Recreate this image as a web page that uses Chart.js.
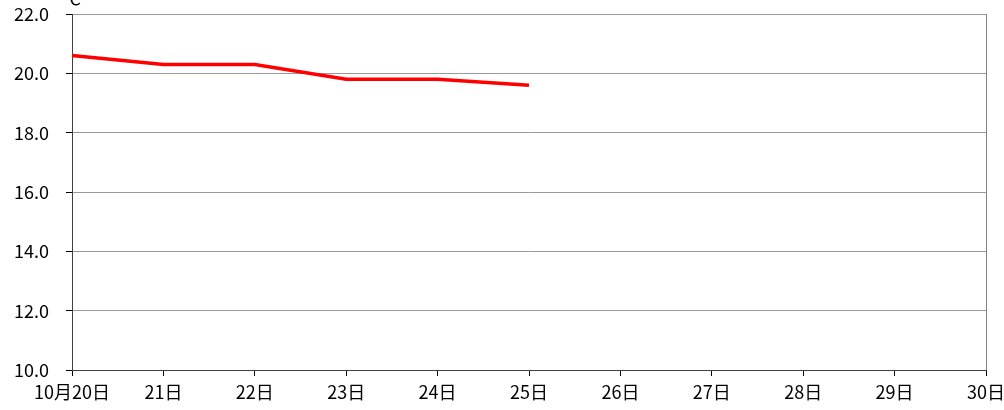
<!DOCTYPE html>
<html>
<head>
<meta charset="utf-8">
<script src="https://cdn.jsdelivr.net/npm/chart.js@4"></script>
<style>
  html, body { margin: 0; padding: 0; background: #fff; }
  #wrap { width: 1004px; height: 410px; }
</style>
</head>
<body>
<div id="wrap"><canvas id="chart" width="1004" height="410"></canvas></div>
<script>
// data
const days = ["10月20日", "21日", "22日", "23日", "24日", "25日", "26日", "27日", "28日", "29日", "30日"];
const temps = [20.6, 20.3, 20.3, 19.8, 19.8, 19.6, null, null, null, null, null];
const yMin = 10, yMax = 22, yStep = 2;

const fontFam = "'Noto Sans CJK JP', 'Noto Sans', sans-serif";

// right border + unit label
const extras = {
    id: "extras",
    afterDraw(chart) {
        const ctx = chart.ctx, a = chart.chartArea;
        ctx.save();
        ctx.strokeStyle = "#808080";
        ctx.lineWidth = 1;
        ctx.beginPath();
        ctx.moveTo(a.right + 0.5, a.top);
        ctx.lineTo(a.right + 0.5, a.bottom);
        ctx.stroke();
        ctx.fillStyle = "#000";
        ctx.font = "18px " + fontFam;
        ctx.textAlign = "right";
        ctx.textBaseline = "bottom";
        ctx.fillText("℃", a.left + 9, 7);
        ctx.restore();
    }
};

new Chart(document.getElementById("chart"), {
    type: "line",
    data: {
        labels: days,
        datasets: [{
            data: temps,
            borderColor: "#ff0000",
            borderWidth: 3.5,
            pointRadius: 0,
            tension: 0,
            spanGaps: false
        }]
    },
    options: {
        responsive: false,
        animation: false,
        layout: { padding: { top: 14, right: 18, left: 0, bottom: 0 } },
        plugins: { legend: { display: false }, tooltip: { enabled: false } },
        scales: {
            x: {
                offset: false,
                grid: { drawOnChartArea: false, drawTicks: true, tickLength: 6, color: "#000" },
                border: { color: "#404040" },
                ticks: { color: "#000", font: { family: fontFam, size: 18 }, maxRotation: 0, autoSkip: false, padding: 5 },
                afterFit(s) { s.height = 40; s.paddingLeft = 0; s.paddingRight = 0; }
            },
            y: {
                min: yMin,
                max: yMax,
                grid: { color: "#999", tickLength: 6, tickColor: "#000" },
                border: { color: "#404040" },
                ticks: {
                    stepSize: yStep,
                    color: "#000",
                    font: { family: fontFam, size: 18 },
                    padding: 17,
                    callback: v => v.toFixed(1)
                },
                afterFit(s) { s.width = 72; s.paddingTop = 0; s.paddingBottom = 0; }
            }
        }
    },
    plugins: [extras]
});
</script>
</body>
</html>
